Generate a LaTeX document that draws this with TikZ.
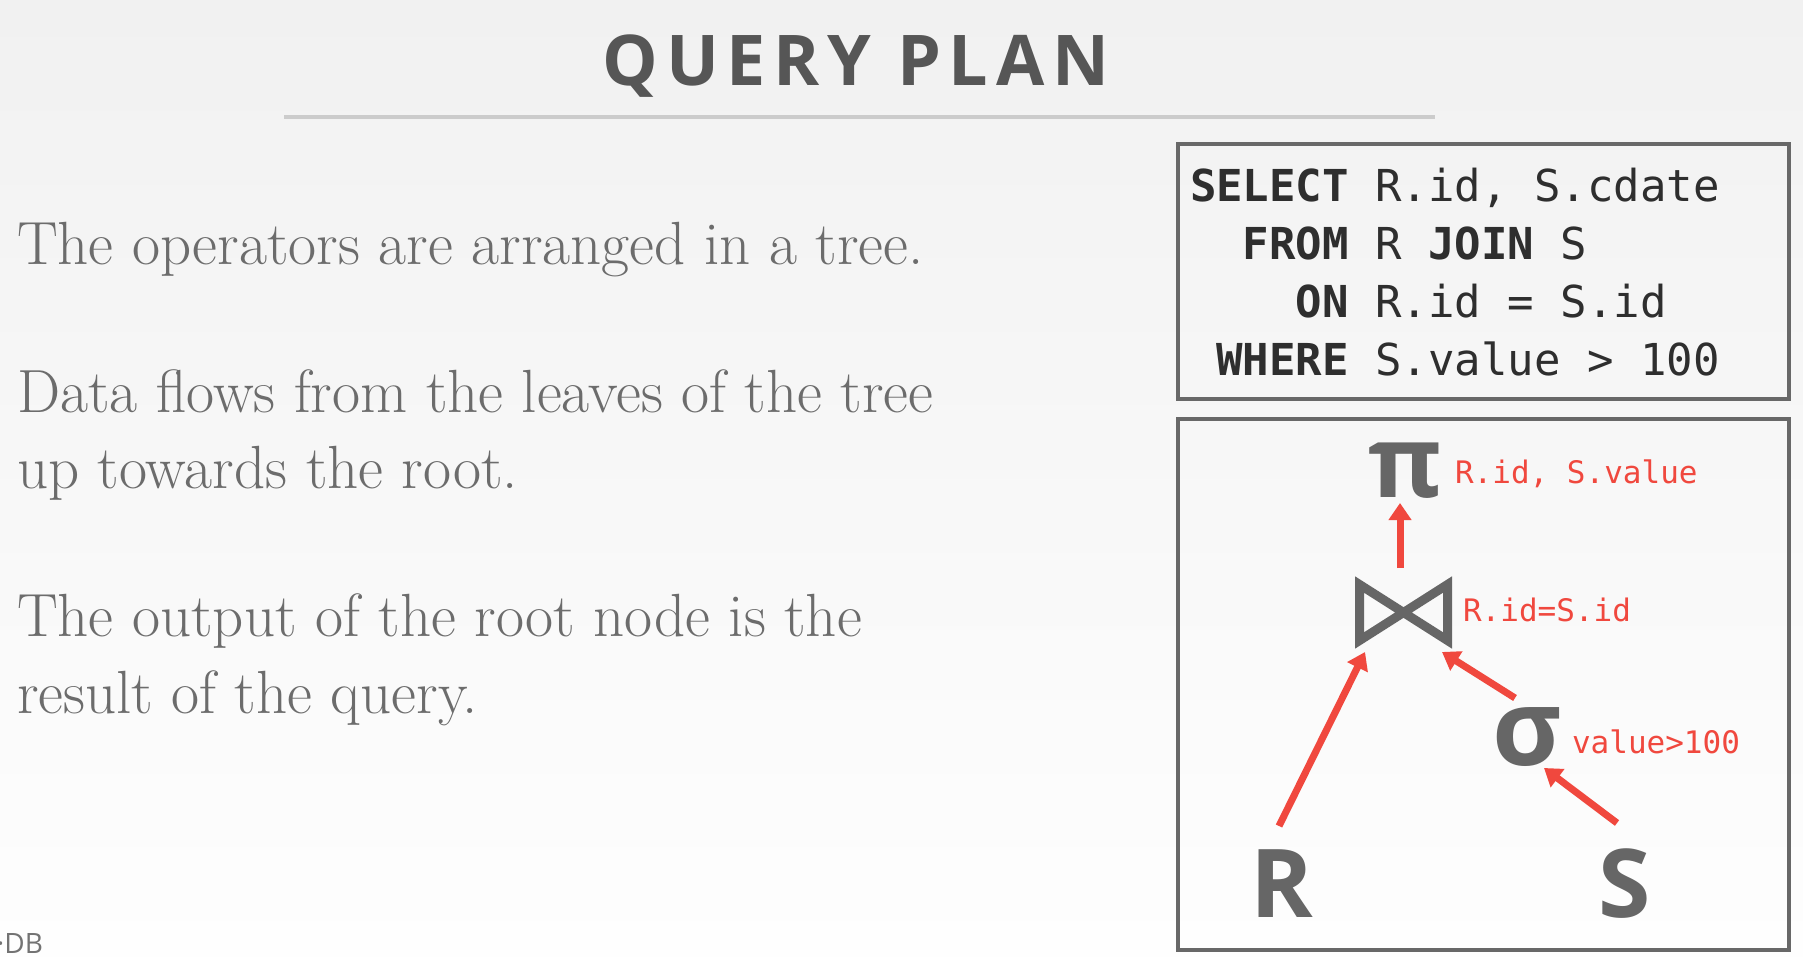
\documentclass[tikz,border=0pt]{standalone}
\usepackage{fontspec}
\usetikzlibrary{arrows.meta}
\newfontfamily\titlefont{Open Sans}[LetterSpace=11]
\newfontfamily\opsans{Open Sans}
\newfontfamily\codefont{DejaVu Sans Mono}
\definecolor{bgtop}{HTML}{F1F1F1}
\definecolor{bgbot}{HTML}{FEFEFE}
\definecolor{titlegray}{HTML}{565656}
\definecolor{bodygray}{HTML}{6C6C6C}
\definecolor{panelgray}{HTML}{686868}
\definecolor{codegray}{HTML}{2E2E2E}
\definecolor{opgray}{HTML}{666666}
\definecolor{planred}{HTML}{F0483E}
\begin{document}
\begin{tikzpicture}[x=1pt,y=1pt,
  every node/.style={inner sep=0pt, outer sep=0pt},
  title/.style={anchor=base, text=titlegray, font=\titlefont\bfseries\fontsize{70}{70}\selectfont},
  body/.style={anchor=base west, text=bodygray, font=\fontsize{61}{61}\selectfont},
  panel/.style={draw=panelgray, line width=4},
  sqlline/.style={anchor=base west, text=codegray, font=\codefont\fontsize{44}{44}\selectfont},
  opsym/.style={anchor=base, text=opgray, font=\opsans\bfseries\fontsize{100}{100}\selectfont},
  relname/.style={anchor=base, text=opgray, font=\opsans\bfseries\fontsize{95}{95}\selectfont},
  oplabel/.style={anchor=base west, text=planred, font=\codefont\fontsize{31}{31}\selectfont},
  bowtie/.style={draw=opgray, line width=9, line join=miter},
  flow/.style={draw=planred, line width=7, -{Triangle[length=17,width=22]}}
]
% page and background
\useasboundingbox (0,0) rectangle (1803,-957);
\shade[top color=bgtop, bottom color=bgbot] (0,0) rectangle (1803,-957);

% heading
\node[title] (title) at (856,-86) {QUERY PLAN};
\coordinate (ruleL) at (284,-117);
\coordinate (ruleR) at (1435,-117);
\draw[line width=4, draw=black!20] (ruleL) -- (ruleR);

% bullet text
\node[body] (t1) at (17,-265) {The operators are arranged in a tree.};
\node[body] (t2) at (17,-412) {Data flows from the leaves of the tree};
\node[body] (t3) at (17,-488) {up towards the root.};
\node[body] (t4) at (17,-636) {The output of the root node is the};
\node[body] (t5) at (17,-713) {result of the query.};

% SQL statement
\node[panel, minimum width=611, minimum height=255] (sqlbox) at (1483.5,-271.5) {};
\node[sqlline] (q1) at (1190,-202) {\bfseries SELECT\mdseries{} R.id, S.cdate};
\node[sqlline] (q2) at (1190,-260) {\phantom{SE}\bfseries FROM\mdseries{} R \bfseries JOIN\mdseries{} S};
\node[sqlline] (q3) at (1190,-317) {\phantom{SELE}\bfseries ON\mdseries{} R.id = S.id};
\node[sqlline] (q4) at (1190,-375) {\phantom{S}\bfseries WHERE\mdseries{} S.value > 100};

% plan tree
\node[panel, minimum width=611, minimum height=531] (treebox) at (1483.5,-684.5) {};

\node[opsym] (proj) at (1405,-497) {π};
\node[oplabel] (projlbl) at (1455,-483) {R.id, S.value};

\node[minimum width=88, minimum height=56] (join) at (1403.5,-612.5) {};
\draw[bowtie] (join.north west) -- (join.south east) -- (join.north east) -- (join.south west) -- cycle;
\node[oplabel] (joinlbl) at (1463,-621) {R.id=S.id};

\node[opsym, font=\opsans\bfseries\fontsize{106}{106}\selectfont] (sel) at (1527,-765) {σ};
\node[oplabel] (sellbl) at (1572,-753) {value>100};

\node[relname] (relR) at (1282,-917) {R};
\node[relname] (relS) at (1625,-917) {S};

% data flow
\draw[flow] ([shift={(-3.5,44.5)}]join.center) -- ([shift={(-5,-6)}]proj.base);
\draw[flow] ([shift={(-3,91)}]relR.base) -- ([shift={(-38.5,-39.5)}]join.center);
\draw[flow] ([shift={(-12,67)}]sel.base) -- ([shift={(38.5,-39.5)}]join.center);
\draw[flow] ([shift={(-8,94)}]relS.base) -- ([shift={(17,-3)}]sel.base);

% footer mark
\node[anchor=base east, text=black!55, font=\opsans\fontsize{28}{28}\selectfont] (logo) at (43,-953) {·DB};
\end{tikzpicture}
\end{document}
